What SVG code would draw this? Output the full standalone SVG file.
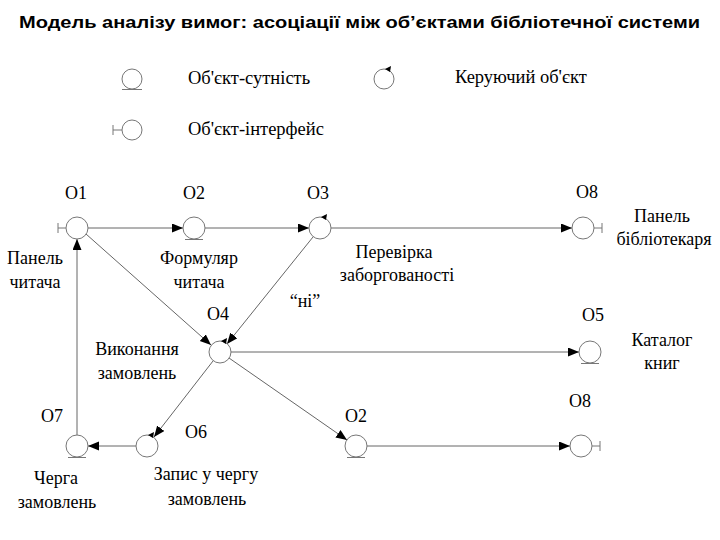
<svg xmlns="http://www.w3.org/2000/svg" width="720" height="540" viewBox="0 0 720 540">
<defs>
<marker id="arr" markerUnits="userSpaceOnUse" markerWidth="12" markerHeight="10" refX="11" refY="4.5" orient="auto">
<path d="M0,0 L11,4.5 L0,9 z" fill="#000"/>
</marker>
<style>
.c{fill:#fff;stroke:#777;stroke-width:1}
.u{stroke:#777;stroke-width:1}
.e{stroke:#666;stroke-width:1;fill:none;marker-end:url(#arr)}
.ctl{fill:#000}
.t{font-family:"Liberation Serif","Times New Roman",serif;font-size:18px;fill:#000;text-anchor:middle}
.lg{font-family:"Liberation Serif","Times New Roman",serif;font-size:18.5px;fill:#000}
.ti{font-family:"Liberation Sans",Arial,sans-serif;font-size:16px;font-weight:bold;fill:#000}
</style>
</defs>
<rect width="720" height="540" fill="#fff"/>
<text class="ti" x="19" y="28" textLength="681" lengthAdjust="spacingAndGlyphs">Модель аналізу вимог: асоціації між об’єктами бібліотечної системи</text>

<g id="legend">
<g id="legend-entity">
<circle class="c" cx="132" cy="79" r="10"/>
<line class="u" x1="122" y1="89.5" x2="142" y2="89.5"/>
<text class="lg" x="188" y="84">Об'єкт-сутність</text>
</g>
<g id="legend-interface">
<circle class="c" cx="132" cy="130" r="10"/>
<line class="u" x1="113" y1="130" x2="122" y2="130"/>
<line class="u" x1="113" y1="125" x2="113" y2="135"/>
<text class="lg" x="188" y="135">Об'єкт-інтерфейс</text>
</g>
<g id="legend-control">
<circle class="c" cx="384" cy="79" r="10"/>
<polygon class="ctl" points="385,69 391,66 390,72"/>
<text class="lg" x="455" y="83">Керуючий об'єкт</text>
</g>
</g>

<g id="connectors">
<line class="e" x1="88" y1="228" x2="183" y2="228"/>
<line class="e" x1="205" y1="228" x2="309" y2="228"/>
<line class="e" x1="331" y1="228" x2="572" y2="228"/>
<line class="e" x1="86" y1="234" x2="211" y2="345"/>
<line class="e" x1="313" y1="237" x2="227" y2="344"/>
<line class="e" x1="231" y1="352" x2="579" y2="352"/>
<line class="e" x1="229" y1="358" x2="347" y2="440"/>
<line class="e" x1="367" y1="446" x2="570" y2="446"/>
<line class="e" x1="213" y1="361" x2="154" y2="437"/>
<line class="e" x1="136" y1="446" x2="88" y2="446"/>
<line class="e" x1="77" y1="435" x2="77" y2="239"/>
</g>

<g id="O1">
<circle class="c" cx="77" cy="228" r="11"/>
<line class="u" x1="58" y1="228" x2="66" y2="228"/>
<line class="u" x1="58" y1="223" x2="58" y2="233"/>
<text class="t" x="76" y="199">O1</text>
<text class="t" x="35" y="264">Панель</text>
<text class="t" x="35" y="288">читача</text>
</g>
<g id="O2">
<circle class="c" cx="194" cy="228" r="11"/>
<line class="u" x1="185" y1="239.5" x2="203" y2="239.5"/>
<text class="t" x="194" y="199">O2</text>
<text class="t" x="199" y="264">Формуляр</text>
<text class="t" x="199" y="288">читача</text>
</g>
<g id="O3">
<circle class="c" cx="320" cy="228" r="11"/>
<polygon class="ctl" points="321,217 327,214 326,220"/>
<text class="t" x="318" y="199">O3</text>
<text class="t" x="394" y="258">Перевірка</text>
<text class="t" x="397" y="281">заборгованості</text>
</g>
<g id="O8-top">
<circle class="c" cx="583" cy="228" r="11"/>
<line class="u" x1="594" y1="228" x2="602" y2="228"/>
<line class="u" x1="602" y1="223" x2="602" y2="233"/>
<text class="t" x="587" y="198">O8</text>
<text class="t" x="662" y="222">Панель</text>
<text class="t" x="664" y="245">бібліотекаря</text>
</g>
<g id="O4">
<circle class="c" cx="220" cy="352" r="11"/>
<polygon class="ctl" points="221,341 227,338 226,344"/>
<text class="t" x="218" y="320">O4</text>
<text class="t" x="305" y="307">“ні”</text>
<text class="t" x="137" y="355">Виконання</text>
<text class="t" x="137" y="379">замовлень</text>
</g>
<g id="O5">
<circle class="c" cx="590" cy="352" r="11"/>
<line class="u" x1="581" y1="363.5" x2="599" y2="363.5"/>
<text class="t" x="593" y="321">O5</text>
<text class="t" x="662" y="346">Каталог</text>
<text class="t" x="662" y="369">книг</text>
</g>
<g id="O2-bottom">
<circle class="c" cx="356" cy="446" r="11"/>
<line class="u" x1="347" y1="457.5" x2="365" y2="457.5"/>
<text class="t" x="356" y="422">O2</text>
</g>
<g id="O8-bottom">
<circle class="c" cx="581" cy="446" r="11"/>
<line class="u" x1="592" y1="446" x2="600" y2="446"/>
<line class="u" x1="600" y1="441" x2="600" y2="451"/>
<text class="t" x="580" y="407">O8</text>
</g>
<g id="O6">
<circle class="c" cx="147" cy="446" r="11"/>
<polygon class="ctl" points="148,435 154,432 153,438"/>
<text class="t" x="196" y="438">O6</text>
<text class="t" x="206" y="480">Запис у чергу</text>
<text class="t" x="207" y="505">замовлень</text>
</g>
<g id="O7">
<circle class="c" cx="77" cy="446" r="11"/>
<line class="u" x1="68" y1="457.5" x2="86" y2="457.5"/>
<text class="t" x="52" y="422">O7</text>
<text class="t" x="56" y="484">Черга</text>
<text class="t" x="57" y="508">замовлень</text>
</g>
</svg>
